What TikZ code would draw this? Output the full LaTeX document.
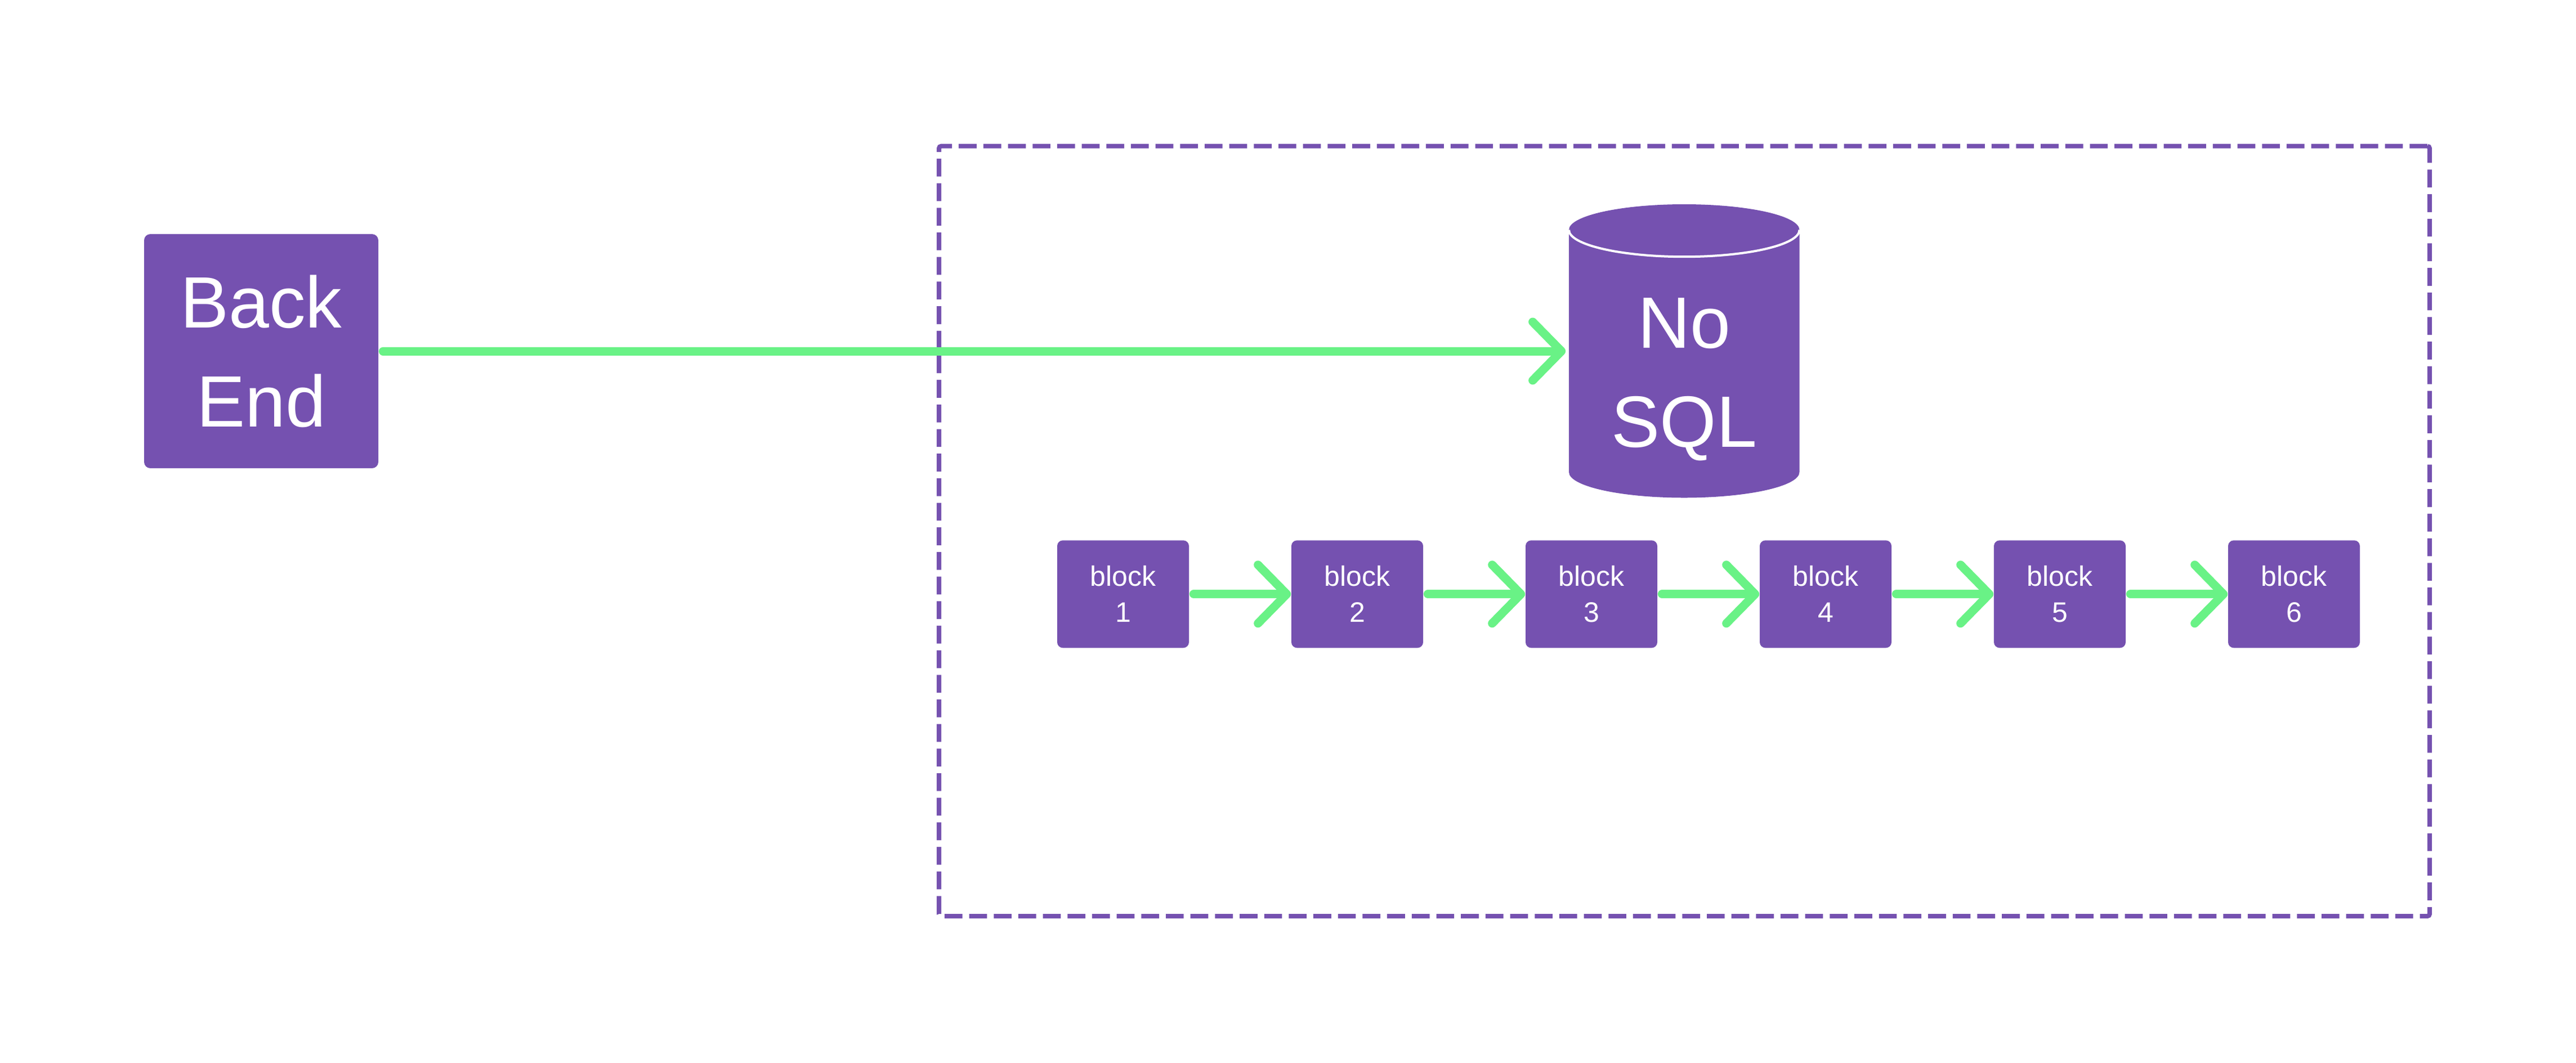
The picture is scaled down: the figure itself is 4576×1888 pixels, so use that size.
\documentclass[tikz,border=0pt]{standalone}
\usepackage{fontspec}
\setmainfont{Liberation Sans}
\usetikzlibrary{arrows.meta}
\definecolor{pur}{HTML}{7551B0}
\definecolor{grn}{HTML}{69F286}
\begin{document}
\begin{tikzpicture}[x=0.25pt,y=-0.25pt,
  box/.style={fill=pur, text=white, inner sep=0pt, align=center},
  bigbox/.style={box, minimum width=104pt, minimum height=104pt, rounded corners=2.75pt, font=\fontsize{32.3}{44}\selectfont},
  blockbox/.style={box, minimum width=58.5pt, minimum height=47.75pt, rounded corners=2.5pt, font=\fontsize{12.5}{16}\selectfont},
  dbtext/.style={text=white, inner sep=0pt, align=center, font=\fontsize{32.3}{44}\selectfont},
  conn/.style={draw=grn, line width=3.75pt, line cap=round, shorten <=1.9pt, -{Straight Barb[length=12.75pt, width=26pt, round]}},
  frame/.style={draw=pur, line width=2pt, dash pattern=on 7.92pt off 3pt, rounded corners=1pt, inner sep=0pt}]
\useasboundingbox (0,0) rectangle (4576,1888);
% dashed group frame
\node[frame, minimum width=662pt, minimum height=342.1pt] (grp) at (2992,943.85) {};
% cylinder
\fill[pur] (2787,408.6) -- (2787,838.9)
  arc[start angle=180, end angle=360, x radius=51.19pt, y radius=11.4pt]
  -- (3196.5,408.6)
  arc[start angle=0, end angle=180, x radius=51.19pt, y radius=11.4pt] -- cycle;
\draw[white, line width=1pt] (2787,408.6)
  arc[start angle=180, end angle=360, x radius=51.19pt, y radius=11.9pt];
\node[inner sep=0pt, minimum width=102.4pt, minimum height=130.4pt] (db) at (2991.75,623.75) {};
\node[dbtext, anchor=north] (dbt) at (2992,528.8) {No\\SQL};
% back end
\node[bigbox] (be) at (464,624) {Back\\End};
% blocks
\node[blockbox] (b1) at (1995,1055.75) {block\\1};
\node[blockbox] (b2) at (2411,1055.75) {block\\2};
\node[blockbox] (b3) at (2827,1055.75) {block\\3};
\node[blockbox] (b4) at (3243,1055.75) {block\\4};
\node[blockbox] (b5) at (3659,1055.75) {block\\5};
\node[blockbox] (b6) at (4075,1055.75) {block\\6};
% connectors
\draw[conn, shorten >=1.25pt] (be.east) -- (be.east -| db.west);
\draw[conn] (b1.east) -- (b2.west);
\draw[conn] (b2.east) -- (b3.west);
\draw[conn] (b3.east) -- (b4.west);
\draw[conn] (b4.east) -- (b5.west);
\draw[conn] (b5.east) -- (b6.west);
\end{tikzpicture}
\end{document}
